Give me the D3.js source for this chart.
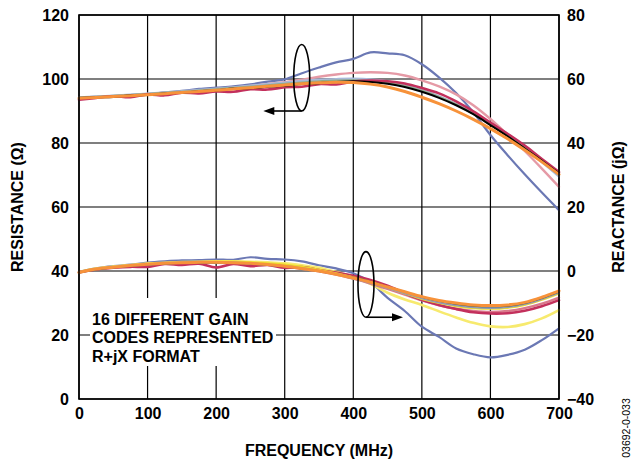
<!DOCTYPE html>
<html>
<head>
<meta charset="utf-8">
<script src="https://cdn.jsdelivr.net/npm/d3@7"></script>
<style>
  html, body { margin: 0; padding: 0; background: #fff; }
  svg text { font-family: Arial, "Liberation Sans", Helvetica, sans-serif; font-weight: bold; fill: #000; }
</style>
</head>
<body>
<svg id="chart" width="642" height="459"></svg>
<script>
// ---- data ----
const freq = [0,25,50,75,100,125,150,175,200,225,250,275,300,325,350,375,400,425,450,475,500,525,550,575,600,625,650,675,700];

const xTicks = [0,100,200,300,400,500,600,700];
const leftTicks = [0,20,40,60,80,100,120];
const rightTicks = [-40,-20,0,20,40,60,80];

// Resistance (Ω), left axis
const resBlue     = [94.2,94.4,94.6,95.0,95.3,95.8,96.3,96.9,97.3,97.7,98.3,99.2,99.9,101.8,103.6,105.2,106.3,108.3,108.0,107.4,104.6,100.5,95.6,89.6,82.5,76.2,70.2,64.5,59.0];
const resPink     = [94.2,94.4,94.6,94.9,95.3,95.7,96.0,96.4,96.8,97.3,97.8,98.4,99.0,99.8,100.7,101.4,101.9,102.1,101.9,101.1,99.6,97.7,95.2,91.8,87.5,82.6,77.5,72.0,66.3];
const resLtBlue   = [94.3,94.5,94.8,95.1,95.4,95.8,96.2,96.6,97.0,97.4,97.9,98.4,98.9,99.4,99.8,100.0,100.1,99.9,99.3,98.2,96.6,94.6,92.2,89.3,85.9,82.3,78.3,74.0,69.5];
const resGray     = [94.2,94.4,94.7,95.0,95.3,95.7,96.0,96.4,96.8,97.2,97.6,98.0,98.5,98.9,99.3,99.5,99.6,99.4,98.8,97.8,96.3,94.4,92.0,89.1,85.8,82.3,78.5,74.4,70.0];
const resCrimson  = [93.5,94.1,94.6,94.3,95.2,94.9,95.7,95.5,96.1,96.0,96.8,96.7,97.4,97.6,98.4,98.3,99.2,99.5,99.3,98.6,97.2,95.5,93.0,89.9,86.4,82.9,79.2,75.0,70.9];
const resBlack    = [94.1,94.3,94.4,94.9,95.0,95.5,95.7,96.2,96.4,97.0,97.1,97.6,97.9,98.4,98.7,99.1,99.3,99.1,98.5,97.5,96.0,94.1,91.8,89.0,85.6,82.1,78.3,74.4,70.5];
const resOrange   = [94.0,94.2,94.5,94.8,95.1,95.4,95.8,96.1,96.5,96.9,97.3,97.7,98.1,98.5,98.8,99.0,98.9,98.4,97.5,96.1,94.3,92.3,90.0,87.4,84.5,81.3,77.8,74.1,70.2];

// Reactance (jΩ), right axis
const reaBlue     = [-0.3,0.8,1.5,2.0,2.6,3.0,3.3,3.4,3.6,3.5,4.3,3.8,3.6,3.0,1.8,0.8,-0.7,-3.5,-8.4,-12.5,-17.4,-20.6,-24.2,-26.0,-27.0,-26.2,-24.6,-21.6,-17.9];
const reaYellowLo = [-0.3,0.8,1.4,1.9,2.3,2.6,2.8,2.9,3.0,3.0,2.9,2.7,2.4,1.8,1.0,-0.3,-1.8,-4.0,-6.8,-8.9,-10.6,-12.6,-14.5,-16.2,-17.3,-17.5,-16.6,-14.8,-12.2];
const reaPink     = [-0.4,0.6,1.1,1.6,2.0,2.3,2.5,2.6,2.6,2.5,2.3,1.9,1.4,0.7,-0.1,-1.1,-2.4,-3.9,-5.6,-7.4,-9.2,-10.7,-11.8,-12.5,-12.8,-12.5,-11.6,-10.2,-8.3];
const reaCrimson  = [-0.4,0.5,1.0,1.3,1.3,2.2,1.9,2.3,1.1,2.2,1.5,1.9,1.0,1.2,0.3,-0.5,-1.5,-2.8,-4.6,-6.9,-9.0,-10.6,-11.9,-12.9,-13.3,-13.2,-12.4,-11.0,-9.1];
const reaYellowUp = [-0.4,0.7,1.3,1.8,2.2,2.5,2.7,2.8,2.9,2.9,2.7,2.4,2.0,1.3,0.4,-0.7,-2.0,-3.5,-5.2,-7.0,-8.7,-10.0,-11.0,-11.6,-11.8,-11.5,-10.6,-9.0,-7.0];
const reaGray     = [-0.5,0.6,1.2,1.7,2.1,2.4,2.6,2.7,2.7,2.6,2.4,2.0,1.5,0.8,0.0,-1.0,-2.3,-3.7,-5.3,-6.9,-8.5,-9.8,-10.7,-11.3,-11.5,-11.2,-10.3,-8.7,-6.7];
const reaBlack    = [-0.5,0.5,1.1,1.6,2.0,2.3,2.5,2.6,2.6,2.5,2.3,1.9,1.4,0.7,-0.1,-1.0,-2.0,-3.3,-4.9,-6.5,-8.1,-9.4,-10.3,-10.9,-11.1,-10.9,-10.1,-8.5,-6.5];
const reaOrange   = [-0.5,0.6,1.2,1.7,2.1,2.4,2.6,2.7,2.7,2.6,2.4,2.0,1.5,0.8,0.0,-1.0,-2.2,-3.5,-5.0,-6.5,-8.0,-9.2,-10.0,-10.6,-10.8,-10.6,-9.8,-8.2,-6.2];

const legendLines = ["16 DIFFERENT GAIN", "CODES REPRESENTED", "R+jX FORMAT"];

// ---- layout ----
const svg = d3.select("#chart");
const W = 642, H = 459;
const m = {left: 79, right: 559, top: 15, bottom: 399};
const FS = 16;
svg.append("rect").attr("width", W).attr("height", H).attr("fill", "#fff");

const x = d3.scaleLinear().domain([0, 700]).range([m.left, m.right]);
const yL = d3.scaleLinear().domain([0, 120]).range([m.bottom, m.top]);
const yR = d3.scaleLinear().domain([-40, 80]).range([m.bottom, m.top]);

// gridlines
const grid = svg.append("g").attr("stroke", "#000").attr("stroke-width", 1.2);
grid.selectAll(".gx").data(xTicks).join("line")
  .attr("x1", d => x(d)).attr("x2", d => x(d)).attr("y1", m.top).attr("y2", m.bottom);
grid.selectAll(".gy").data(leftTicks).join("line")
  .attr("x1", m.left).attr("x2", m.right).attr("y1", d => yL(d)).attr("y2", d => yL(d));

// legend text box (white background hides grid)
const leg = svg.append("g");
leg.append("rect").attr("x", 90).attr("y", 298).attr("width", 186).attr("height", 68).attr("fill", "#fff");
leg.selectAll("text").data(legendLines).join("text")
  .attr("x", 92).attr("y", (d, i) => 325 + i * 18.3)
  .attr("font-size", FS).text(d => d);

// curves
const lineL = d3.line().x((d, i) => x(freq[i])).y(d => yL(d)).curve(d3.curveCatmullRom);
const lineR = d3.line().x((d, i) => x(freq[i])).y(d => yR(d)).curve(d3.curveCatmullRom);

const resSeries = [
  {v: resBlue, c: "#6b78b4", w: 2.2},
  {v: resPink, c: "#e59aa6", w: 2.4},
  {v: resLtBlue, c: "#a9b9da", w: 2.2},
  {v: resGray, c: "#8faa8a", w: 2.2},
  {v: resCrimson, c: "#c3305c", w: 2.6},
  {v: resBlack, c: "#000000", w: 2.0},
  {v: resOrange, c: "#f7923a", w: 3.0}
];
const reaSeries = [
  {v: reaBlue, c: "#6b78b4", w: 2.2},
  {v: reaYellowLo, c: "#f7ea6e", w: 2.6},
  {v: reaPink, c: "#d9788a", w: 2.4},
  {v: reaCrimson, c: "#c3305c", w: 2.6},
  {v: reaYellowUp, c: "#eedc2a", w: 2.2},
  {v: reaGray, c: "#8f9ab8", w: 2.2},
  {v: reaBlack, c: "#3a5a3a", w: 1.6},
  {v: reaOrange, c: "#f7923a", w: 3.0}
];
const curves = svg.append("g").attr("fill", "none").attr("stroke-linejoin", "round").attr("stroke-linecap", "round");
curves.selectAll(".res").data(resSeries).join("path")
  .attr("d", d => lineL(d.v)).attr("stroke", d => d.c).attr("stroke-width", d => d.w);
curves.selectAll(".rea").data(reaSeries).join("path")
  .attr("d", d => lineR(d.v)).attr("stroke", d => d.c).attr("stroke-width", d => d.w);

// frame
svg.append("rect").attr("x", m.left).attr("y", m.top)
  .attr("width", m.right - m.left).attr("height", m.bottom - m.top)
  .attr("fill", "none").attr("stroke", "#000").attr("stroke-width", 1.6);

// axes labels
const axL = svg.append("g").attr("transform", `translate(${m.left},0)`)
  .call(d3.axisLeft(yL).tickValues(leftTicks).tickSize(0).tickPadding(10));
const axR = svg.append("g").attr("transform", `translate(${m.right},0)`)
  .call(d3.axisRight(yR).tickValues(rightTicks).tickSize(0).tickPadding(8).tickFormat(d => d < 0 ? "\u2212" + Math.abs(d) : d));
const axB = svg.append("g").attr("transform", `translate(0,${m.bottom})`)
  .call(d3.axisBottom(x).tickValues(xTicks).tickSize(0).tickPadding(9));
[axL, axR, axB].forEach(a => {
  a.select(".domain").remove();
  a.selectAll("text").attr("font-size", FS).attr("font-family", null).style("font-weight", "bold");
  a.attr("font-family", null).attr("font-size", null);
});

// axis titles
svg.append("text").attr("transform", `translate(23,${(m.top + m.bottom) / 2}) rotate(-90)`)
  .attr("text-anchor", "middle").attr("font-size", FS).text("RESISTANCE (\u03A9)");
svg.append("text").attr("transform", `translate(624,${(m.top + m.bottom) / 2}) rotate(-90)`)
  .attr("text-anchor", "middle").attr("font-size", FS).text("REACTANCE (j\u03A9)");
svg.append("text").attr("x", (m.left + m.right) / 2).attr("y", 456)
  .attr("text-anchor", "middle").attr("font-size", FS).text("FREQUENCY (MHz)");
svg.append("text").attr("transform", `translate(630,428) rotate(-90)`)
  .attr("text-anchor", "middle").attr("font-size", 10.5).style("font-weight", "normal").text("03692-0-033");

// annotations: ellipses with arrows
const ann = svg.append("g").attr("stroke", "#000").attr("stroke-width", 1.6).attr("fill", "none");
function annot(cf, cv, scale, ryUnits, tipF) {
  const cx = x(cf), cy = scale(cv);
  const ry = Math.abs(scale(cv + ryUnits) - cy);
  ann.append("ellipse").attr("cx", cx).attr("cy", cy).attr("rx", 8).attr("ry", ry);
  const by = cy + ry, tx = x(tipF);
  const dir = tx > cx ? 1 : -1;
  ann.append("line").attr("x1", cx).attr("y1", by).attr("x2", tx - dir * 8).attr("y2", by);
  svg.append("path")
    .attr("d", `M${tx},${by} L${tx - dir * 11},${by - 4} L${tx - dir * 11},${by + 4} Z`)
    .attr("fill", "#000");
}
annot(324.8, 100.4, yL, 10.4, 268.8);
annot(418.5, -4.2, yR, 10.25, 472.5);
</script>
</body>
</html>
